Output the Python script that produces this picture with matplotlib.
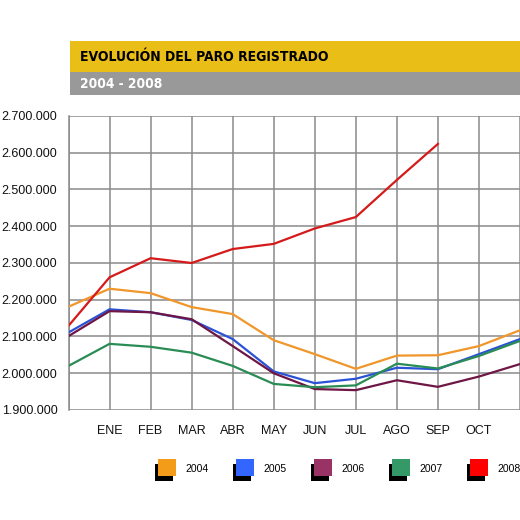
import matplotlib
matplotlib.use("Agg")
import matplotlib.pyplot as plt
from matplotlib.patches import Rectangle
from matplotlib.ticker import FuncFormatter, MultipleLocator
import numpy as np

months = ['', 'ENE', 'FEB', 'MAR', 'ABR', 'MAY', 'JUN', 'JUL', 'AGO', 'SEP', 'OCT', '']
years = ['2004', '2005', '2006', '2007', '2008']
s2004 = [2181000, 2230000, 2218000, 2180000, 2161000, 2090000, 2052000, 2012000, 2048000, 2049000, 2074000, 2117000]
s2005 = [2111000, 2174000, 2166000, 2145000, 2093000, 2005000, 1973000, 1985000, 2015000, 2011000, 2052000, 2093000]
s2006 = [2101000, 2169000, 2166000, 2147000, 2074000, 2000000, 1957000, 1954000, 1981000, 1963000, 1991000, 2025000]
s2007 = [2020000, 2080000, 2072000, 2056000, 2020000, 1971000, 1962000, 1967000, 2026000, 2013000, 2047000, 2088000]
s2008 = [2129000, 2261000, 2313000, 2300000, 2338000, 2352000, 2394000, 2425000, 2526000, 2624000]
series = [s2004, s2005, s2006, s2007, s2008]
line_colors = ['#F0962A', '#2A52D6', '#6E1645', '#2A8C55', '#D41A1A']
legend_colors = ['#F39C1A', '#3366FF', '#993366', '#339966', '#FF0000']
title = 'EVOLUCIÓN DEL PARO REGISTRADO'
subtitle = '2004 - 2008'

W = H = 520
fig = plt.figure(figsize=(5.2, 5.2), dpi=100)

def fx(px):
    return px / W

def fy(py):
    return 1 - py / H

# title bars
fig.patches.append(Rectangle((fx(70), fy(72)), fx(450), 31 / H, transform=fig.transFigure,
                             facecolor='#E9BE17', edgecolor='none', zorder=0))
fig.patches.append(Rectangle((fx(70), fy(95)), fx(450), 23 / H, transform=fig.transFigure,
                             facecolor='#999999', edgecolor='none', zorder=0))
fig.text(fx(80), fy(57), title, fontsize=10, fontweight='bold', color='black',
         family='DejaVu Sans', fontstretch='condensed', va='center', ha='left')
fig.text(fx(80), fy(83.5), subtitle, fontsize=9.8, fontweight='bold', color='white',
         family='DejaVu Sans', fontstretch='condensed', va='center', ha='left')

x0_px, step_px = 68.5, 43.3
left = x0_px
bottom_px, top_px = 410, 116
ax = fig.add_axes([fx(left), fy(bottom_px), 1 - fx(left), (bottom_px - top_px) / H])
xmax = (W - x0_px) / step_px
ax.set_xlim(0, xmax)
ax.set_ylim(1900000, 2700000)

for vals, c in zip(series, line_colors):
    ax.plot(np.arange(len(vals)), vals, color=c, lw=1.6, solid_joinstyle='miter', zorder=3, clip_on=True)

ax.set_xticks(np.arange(len(months)))
ax.set_xticklabels(months)
ax.yaxis.set_major_locator(MultipleLocator(100000))
ax.yaxis.set_major_formatter(FuncFormatter(lambda v, p: f'{int(round(v)):,}'.replace(',', '.')))
ax.grid(True, color='#8A8A8A', lw=1.1, zorder=1)
ax.set_axisbelow(True)
for side in ['right', 'top', 'bottom']:
    ax.spines[side].set_visible(False)
ax.spines['left'].set_color('#8A8A8A')
ax.spines['left'].set_linewidth(1.1)
ax.tick_params(axis='both', length=0, labelsize=9, labelcolor='#111111')
ax.tick_params(axis='y', pad=8)
ax.tick_params(axis='x', pad=11)
for lab in ax.get_xticklabels() + ax.get_yticklabels():
    lab.set_family(['Liberation Sans', 'DejaVu Sans'])

# legend
for i, (yr, c) in enumerate(zip(years, legend_colors)):
    sx = 158 + i * 78
    fig.patches.append(Rectangle((fx(sx - 3), fy(481)), 18 / W, 17 / H, transform=fig.transFigure,
                                 facecolor='black', edgecolor='none'))
    fig.patches.append(Rectangle((fx(sx), fy(476)), 18 / W, 17 / H, transform=fig.transFigure,
                                 facecolor=c, edgecolor='none'))
    fig.text(fx(sx + 27), fy(469), yr, fontsize=7.5, color='black',
             family=['Liberation Sans', 'DejaVu Sans'], va='center', ha='left')

fig.savefig('out.png', dpi=100, facecolor='white')
